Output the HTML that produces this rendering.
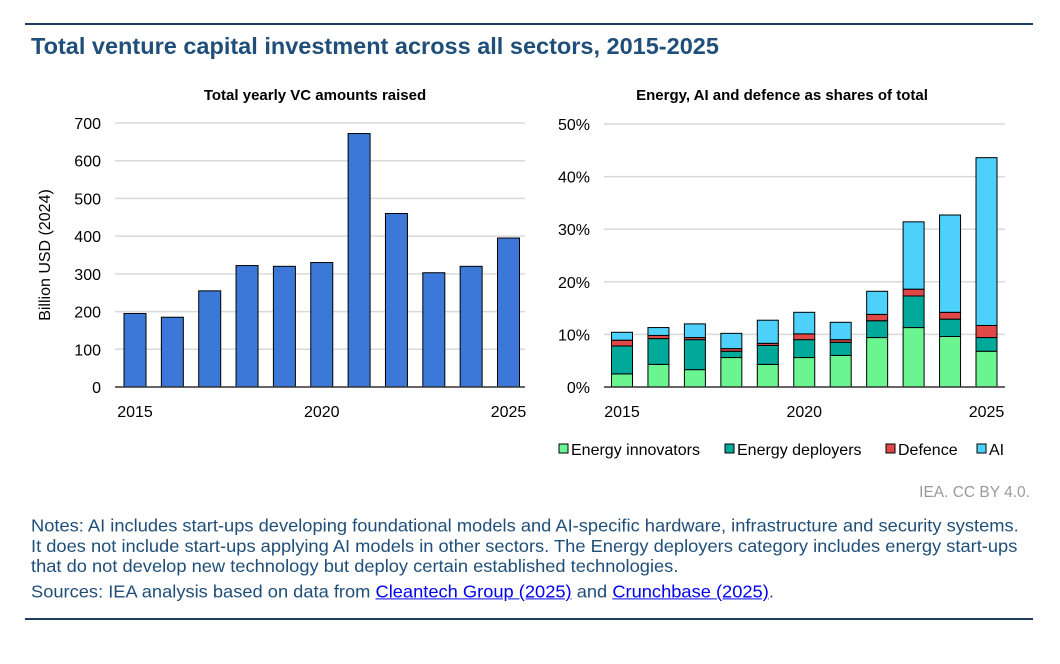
<!DOCTYPE html>
<html><head><meta charset="utf-8"><style>
body{margin:0;background:#fff;width:1060px;height:664px;overflow:hidden;font-family:"Liberation Sans",Arial,sans-serif}
svg text{font-family:"Liberation Sans",Arial,sans-serif}
.notes{position:absolute;left:31px;top:515px;width:1020px;font-size:18.3px;line-height:21px;color:#1f4e79;white-space:nowrap;transform:scaleY(0.97);transform-origin:0 0}
.notes a{color:#0000ee;text-decoration:underline}
</style></head><body>
<svg id="s" width="1060" height="664" style="position:absolute;left:0;top:0">
<line x1="25" y1="24" x2="1033" y2="24" stroke="#1f3a5f" stroke-width="2"/>
<text x="31" y="54" font-size="23.5" font-weight="bold" fill="#1f4e79">Total venture capital investment across all sectors, 2015-2025</text>
<text x="315" y="100" font-size="15" font-weight="bold" text-anchor="middle" fill="#000">Total yearly VC amounts raised</text>
<text x="782" y="100" font-size="15" font-weight="bold" text-anchor="middle" fill="#000">Energy, AI and defence as shares of total</text>
<text transform="translate(50,255) rotate(-90)" font-size="16" text-anchor="middle" fill="#000">Billion USD (2024)</text>
<g id="L"></g><g id="R"></g>
<text x="1030" y="497" font-size="15.5" text-anchor="end" fill="#999">IEA. CC BY 4.0.</text>
<line x1="25" y1="619" x2="1033" y2="619" stroke="#1f3a5f" stroke-width="2"/>
</svg>
<div class="notes">Notes: AI includes start-ups developing foundational models and AI-specific hardware, infrastructure and security systems.<br>It does not include start-ups applying AI models in other sectors. The Energy deployers category includes energy start-ups<br>that do not develop new technology but deploy certain established technologies.<div style="margin-top:5px">Sources: IEA analysis based on data from <a href="#">Cleantech Group (2025)</a> and <a href="#">Crunchbase (2025)</a>.</div></div>
<script>
const years=[2015,2016,2017,2018,2019,2020,2021,2022,2023,2024,2025];
const vcTotal=[195,185,255,322,320,330,672,460,303,320,395];
const leftTicks=[0,100,200,300,400,500,600,700];
const innovators=[2.5,4.3,3.3,5.6,4.3,5.6,6.0,9.4,11.3,9.6,6.8];
const deployers=[5.3,4.9,5.7,1.2,3.6,3.4,2.5,3.2,6.0,3.3,2.6];
const defence=[1.1,0.6,0.4,0.5,0.4,1.1,0.5,1.2,1.3,1.3,2.3];
const ai=[1.5,1.5,2.6,2.9,4.4,4.1,3.3,4.4,12.8,18.5,31.9];
const rightTicks=[0,10,20,30,40,50];
const xLabels=[2015,2020,2025];
const NS='http://www.w3.org/2000/svg';
function mk(p,t,a){const e=document.createElementNS(NS,t);for(const k in a)e.setAttribute(k,a[k]);p.appendChild(e);return e;}
const L=document.getElementById('L');
const lx=i=>135+i*37.35, ly=v=>387-v*(264/700);
leftTicks.forEach(t=>{
 if(t>0){const g=mk(L,'line',{x1:115,x2:525,y1:ly(t),y2:ly(t),stroke:'#d9d9d9','stroke-width':1.5});
 }
 const tx=mk(L,'text',{x:101,y:ly(t)+6,'font-size':16,'text-anchor':'end'});tx.textContent=t;
 
});
vcTotal.forEach((v,i)=>{const r=mk(L,'rect',{x:lx(i)-11,y:ly(v),width:22,height:ly(0)-ly(v),fill:'#3c78d8',stroke:'#000','stroke-width':1});
 });
const la=mk(L,'line',{x1:115,x2:525,y1:387,y2:387,stroke:'#333','stroke-width':1.5});

xLabels.forEach(y=>{const i=years.indexOf(y);const t=mk(L,'text',{x:lx(i),y:417,'font-size':16,'text-anchor':'middle'});t.textContent=y;
 });
const R=document.getElementById('R');
const rx=i=>622+i*36.45, ry=v=>387-v*(263/50);
rightTicks.forEach(t=>{
 if(t>0){const g=mk(R,'line',{x1:604,x2:1005,y1:ry(t),y2:ry(t),stroke:'#d9d9d9','stroke-width':1.5});
 }
 const tx=mk(R,'text',{x:590,y:ry(t)+6,'font-size':16,'text-anchor':'end'});tx.textContent=t+'%';
 
});
const series=[['energy-innovators',innovators,'#6af590'],['energy-deployers',deployers,'#00a99a'],['defence',defence,'#e04848'],['ai',ai,'#4dd0fa']];
years.forEach((y,i)=>{let base=0;series.forEach(([n,arr,c])=>{const v=arr[i];
 const r=mk(R,'rect',{x:rx(i)-10.5,y:ry(base+v),width:21,height:ry(base)-ry(base+v),fill:c,stroke:'#000','stroke-width':1});
 base+=v;});});
const ra=mk(R,'line',{x1:604,x2:1005,y1:387,y2:387,stroke:'#333','stroke-width':1.5});

xLabels.forEach(y=>{const i=years.indexOf(y);const t=mk(R,'text',{x:rx(i),y:417,'font-size':16,'text-anchor':'middle'});t.textContent=y;
 });
const leg=[['Energy innovators','#6af590',559],['Energy deployers','#00a99a',725],['Defence','#e04848',886],['AI','#4dd0fa',977]];
leg.forEach(([n,c,x])=>{const r=mk(R,'rect',{x:x,y:444,width:9,height:9,fill:c,stroke:'#000','stroke-width':1});
 
 const t=mk(R,'text',{x:x+12,y:455,'font-size':16});t.textContent=n;
 });
</script>
</body></html>
